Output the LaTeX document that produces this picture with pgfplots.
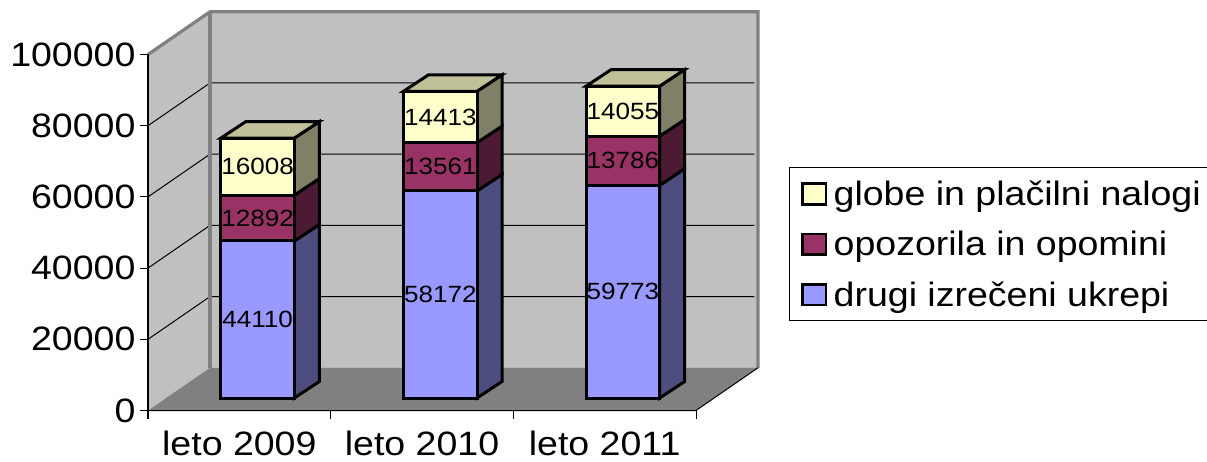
\documentclass[border=0pt]{standalone}
\usepackage{fontspec}
\setmainfont[FakeStretch=1.11]{Liberation Sans}
\usepackage{pgfplots}
\usepackage{pgfplotstable}
\pgfplotsset{compat=1.18}
\definecolor{cBlue}{HTML}{9999FF}\definecolor{cRed}{HTML}{993366}\definecolor{cYel}{HTML}{FFFFCC}
\definecolor{sBlue}{HTML}{4D4D80}\definecolor{sRed}{HTML}{4D1A33}\definecolor{sYel}{HTML}{808066}
\definecolor{tYel}{HTML}{C0C099}\definecolor{wall}{HTML}{C0C0C0}\definecolor{edge}{HTML}{808080}
\newcommand{\bigf}{\fontsize{33.8}{36}\selectfont}
\newcommand{\smallf}{\fontsize{23.5}{25}\selectfont}
\pgfplotstableread{
x    base  drugi  opozorila globe
0.6  3511  44110  12892     16008
1.6  3511  58172  13561     14413
2.6  3511  59773  13786     14055
}\stackdata
\pgfplotstableread{
x     y      label
0.6   25566  44110
0.6   54067  12892
0.6   68517  16008
1.6   32597  58172
1.6   68463  13561
1.6   82450  14413
2.6   33397  59773
2.6   70177  13786
2.6   84097  14055
}\labeldata
\pgfplotsset{base/.style={at={(148pt,50.5pt)},anchor=south west,scale only axis,width=548pt,height=356pt,
  xmin=0,xmax=3,ymin=0,ymax=100000,clip=false},
  side/.style={draw=black,line width=3pt,line join=miter,mark=none},
  legimg/.style={legend image code/.code={\draw[##1,draw=black,line width=2.6pt] (0pt,1.2pt) rectangle (23.6pt,21.8pt);}}}
\begin{document}
\begin{tikzpicture}[x=1pt,y=1pt]
\path[use as bounding box] (0,0) rectangle (1207,461);
% walls, floor, grid, side and top faces
\begin{axis}[base,hide axis]
\addplot[fill=wall,draw=none,mark=none] coordinates {(0,0)(0.3394,12000)(0.3394,112000)(0,100000)} -- cycle;
\addplot[fill=wall,draw=none,mark=none] coordinates {(0.3394,12000)(3.3394,12000)(3.3394,112000)(0.3394,112000)} -- cycle;
\addplot[fill=edge,draw=none,mark=none] coordinates {(0,0)(3,0)(3.3394,12000)(0.3394,12000)} -- cycle;
\addplot[black,line width=1pt,mark=none] coordinates {(0,20000)(0.3394,32000)(3.32,32000)};
\addplot[black,line width=1pt,mark=none] coordinates {(0,40000)(0.3394,52000)(3.32,52000)};
\addplot[black,line width=1pt,mark=none] coordinates {(0,60000)(0.3394,72000)(3.32,72000)};
\addplot[black,line width=1pt,mark=none] coordinates {(0,80000)(0.3394,92000)(3.32,92000)};
\addplot[edge,line width=3.2pt,mark=none] coordinates {(0,100000)(0.3394,112000)(3.3394,112000)(3.3394,12000)};
\addplot[edge,line width=3.6pt,mark=none] coordinates {(0.3394,12000)(0.3394,112000)};
\addplot[black,line width=1pt,mark=none] coordinates {(0,0)(3,0)(3.3394,12000)};
% bar 2009
\addplot[side,fill=sBlue] coordinates {(0.8012,3511)(0.9381,8146)(0.9381,52256)(0.8012,47621)} -- cycle;
\addplot[side,fill=sRed] coordinates {(0.8012,47621)(0.9381,52256)(0.9381,65148)(0.8012,60513)} -- cycle;
\addplot[side,fill=sYel] coordinates {(0.8012,60513)(0.9381,65148)(0.9381,81156)(0.8012,76521)} -- cycle;
\addplot[side,fill=tYel] coordinates {(0.3988,76521)(0.5357,81156)(0.9381,81156)(0.8012,76521)} -- cycle;
% bar 2010
\addplot[side,fill=sBlue] coordinates {(1.8012,3511)(1.9381,8146)(1.9381,66318)(1.8012,61683)} -- cycle;
\addplot[side,fill=sRed] coordinates {(1.8012,61683)(1.9381,66318)(1.9381,79879)(1.8012,75244)} -- cycle;
\addplot[side,fill=sYel] coordinates {(1.8012,75244)(1.9381,79879)(1.9381,94292)(1.8012,89657)} -- cycle;
\addplot[side,fill=tYel] coordinates {(1.3988,89657)(1.5357,94292)(1.9381,94292)(1.8012,89657)} -- cycle;
% bar 2011
\addplot[side,fill=sBlue] coordinates {(2.8012,3511)(2.9381,8146)(2.9381,67919)(2.8012,63284)} -- cycle;
\addplot[side,fill=sRed] coordinates {(2.8012,63284)(2.9381,67919)(2.9381,81705)(2.8012,77070)} -- cycle;
\addplot[side,fill=sYel] coordinates {(2.8012,77070)(2.9381,81705)(2.9381,95760)(2.8012,91125)} -- cycle;
\addplot[side,fill=tYel] coordinates {(2.3988,91125)(2.5357,95760)(2.9381,95760)(2.8012,91125)} -- cycle;
\end{axis}
% front faces, axes, legend
\begin{axis}[base,ybar stacked,bar width=73.5pt,
  axis x line=bottom,axis y line=left,axis line style={-,black,line width=1pt},
  /pgf/number format/assume math mode=true,
  ticklabel style={font=\bigf},
  ytick={0,20000,40000,60000,80000,100000},
  yticklabel style={/pgf/number format/fixed,/pgf/number format/1000 sep={},xshift=-1pt},
  scaled y ticks=false,
  xtick={0.5,1.5,2.5},xticklabels={leto 2009,leto 2010,leto 2011},
  major x tick style={draw=none},
  minor xtick={0,1,2,3},
  minor tick length=8pt,major tick length=8pt,
  tick align=outside,
  tick style={black,line width=1pt},
  xticklabel style={yshift=-9pt},
  reverse legend,
  legend cell align=left,
  legend style={at={(1.1706,0.684)},anchor=north west,draw=black,line width=1pt,font=\bigf,
    inner xsep=11.3pt,inner ysep=1pt,row sep=0pt,
    nodes={inner ysep=0pt,inner xsep=6.2pt,text height=37pt,text depth=13.3pt,anchor=base west}},
]
\addplot[draw=none,fill=none,forget plot] table[x=x,y=base] {\stackdata};
\addplot[legimg,fill=cBlue,draw=black,line width=3pt] table[x=x,y=drugi] {\stackdata};
\addplot[legimg,fill=cRed,draw=black,line width=3pt] table[x=x,y=opozorila] {\stackdata};
\addplot[legimg,fill=cYel,draw=black,line width=3pt] table[x=x,y=globe] {\stackdata};
\legend{drugi izrečeni ukrepi,opozorila in opomini,globe in plačilni nalogi}
\end{axis}
% value labels
\begin{axis}[base,hide axis]
\addplot[only marks,mark=none,point meta=explicit symbolic,nodes near coords,
  nodes near coords style={anchor=center,font=\smallf,inner sep=0pt,text=black}]
  table[x=x,y=y,meta=label] {\labeldata};
\end{axis}
\end{tikzpicture}
\end{document}
